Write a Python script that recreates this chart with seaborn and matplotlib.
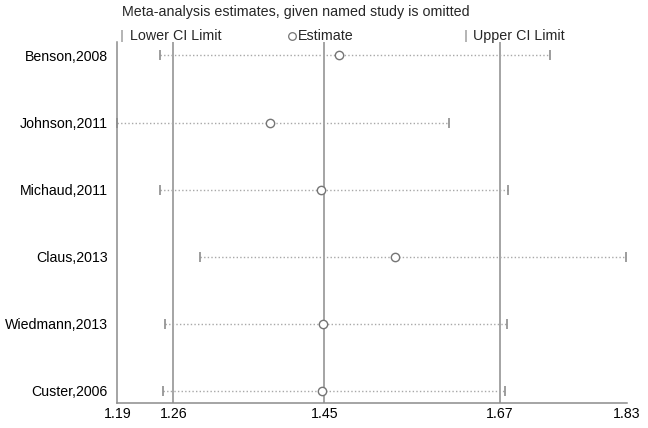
import matplotlib
matplotlib.use("Agg")
import pandas as pd
import seaborn as sns
import matplotlib.pyplot as plt

# estimates with named study omitted
studies = ["Benson,2008", "Johnson,2011", "Michaud,2011", "Claus,2013", "Wiedmann,2013", "Custer,2006"]
estimate = [1.468, 1.382, 1.446, 1.538, 1.448, 1.447]
lower_ci = [1.244, 1.19, 1.244, 1.294, 1.250, 1.247]
upper_ci = [1.733, 1.606, 1.681, 1.829, 1.679, 1.677]

# overall lower CI, estimate, upper CI
overall = [1.26, 1.45, 1.67]
x_ticks = [1.19, 1.26, 1.45, 1.67, 1.83]

df = pd.DataFrame({"study": studies, "estimate": estimate, "lower": lower_ci, "upper": upper_ci})

sns.set_style("white")
plt.rcParams["font.family"] = ["Liberation Sans", "DejaVu Sans"]

grey = "#8c8c8c"
light = "#a8a8a8"

fig = plt.figure(figsize=(6.48, 4.28), dpi=100)
ax = fig.add_axes([0.1813, 0.0584, 0.7863, 0.8435])

# reference lines for the overall estimate and its CI
for v in overall:
    ax.axvline(v, color=grey, lw=1.1, zorder=1)

# dotted CI lines
ax.hlines(df["study"], df["lower"], df["upper"], colors=light, lw=1.0,
          linestyles=(0, (1, 1.6)), zorder=2, clip_on=False)

# CI ends
sns.scatterplot(data=df, x="lower", y="study", marker="|", s=60, color=grey,
                linewidth=1.2, ax=ax, zorder=3, clip_on=False)
sns.scatterplot(data=df, x="upper", y="study", marker="|", s=60, color=grey,
                linewidth=1.2, ax=ax, zorder=3, clip_on=False)

# point estimates, open circles
sns.scatterplot(data=df, x="estimate", y="study", marker="o", s=36, facecolor="white",
                edgecolor="#757575", linewidth=1.0, ax=ax, zorder=4, clip_on=False)

ax.set_xlim(x_ticks[0], x_ticks[-1])
ax.set_ylim(len(studies) - 0.82, -0.2)
ax.set_xticks(x_ticks)
ax.set_xticklabels([f"{t:.2f}" for t in x_ticks])
ax.set_xlabel("")
ax.set_ylabel("")

for side in ["top", "right"]:
    ax.spines[side].set_visible(False)
for side in ["left", "bottom"]:
    ax.spines[side].set_color(grey)
    ax.spines[side].set_linewidth(1.1)

ax.tick_params(axis="x", direction="in", length=6, width=1.1, color=grey,
               labelsize=10.2, pad=3, labelcolor="black")
ax.tick_params(axis="y", length=0, pad=7, labelsize=10.2, labelcolor="black")

# title and key
fig.text(0.188, 0.972, "Meta-analysis estimates, given named study is omitted",
         fontsize=10.3, ha="left", va="center")
key_y = 0.917
ax.plot([0.188], [key_y], marker="|", ms=8, mew=1.2, color=light,
        transform=fig.transFigure, clip_on=False)
fig.text(0.200, key_y, "Lower CI Limit", fontsize=10.3, ha="left", va="center")
ax.plot([0.451], [key_y], marker="o", ms=5.5, mew=0.9, mfc="white", mec="#757575",
        transform=fig.transFigure, clip_on=False)
fig.text(0.459, key_y, "Estimate", fontsize=10.3, ha="left", va="center")
ax.plot([0.719], [key_y], marker="|", ms=8, mew=1.2, color=light,
        transform=fig.transFigure, clip_on=False)
fig.text(0.730, key_y, "Upper CI Limit", fontsize=10.3, ha="left", va="center")

fig.savefig("out.png", dpi=100)
